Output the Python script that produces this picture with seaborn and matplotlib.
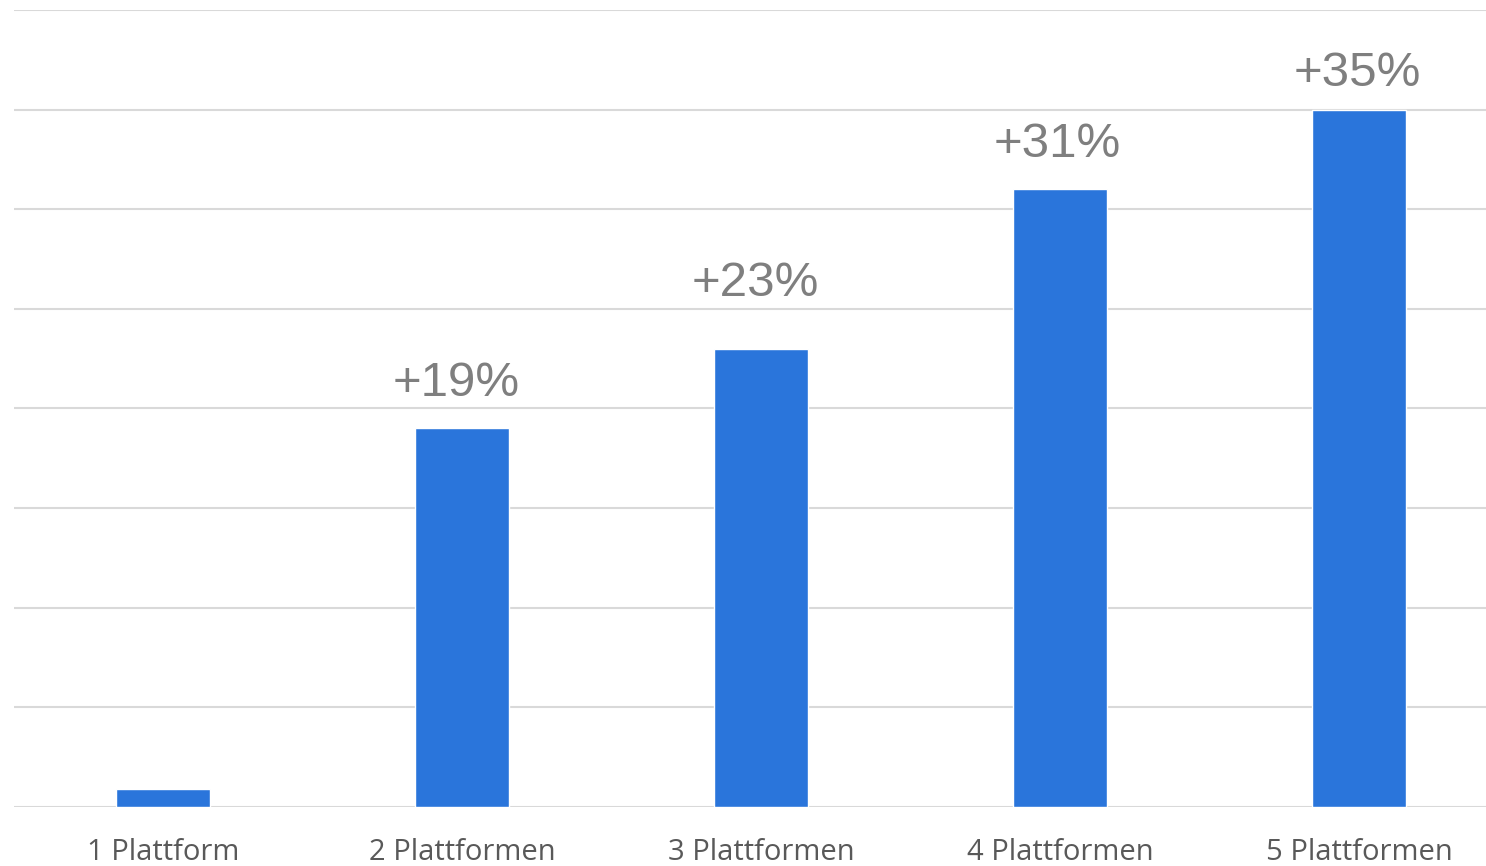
import matplotlib
matplotlib.use("Agg")
import matplotlib.pyplot as plt
import seaborn as sns
import pandas as pd

categories = ["1 Plattform", "2 Plattformen", "3 Plattformen", "4 Plattformen", "5 Plattformen"]
values = [0.18, 3.8, 4.6, 6.2, 7.0]
labels = ["", "+19%", "+23%", "+31%", "+35%"]

# label offsets (points) as styling
label_dx = [0, -4, -4, -2, -1]
label_dy = [0, 16, 31, 16, 10]

sns.set_theme(style="white")
plt.rcParams['font.family'] = ['Open Sans', 'DejaVu Sans']

df = pd.DataFrame({"cat": categories, "val": values})

fig = plt.figure(figsize=(14.86, 8.66), dpi=100)
ax = fig.add_axes([0.0094, 0.0681, 0.9906, 0.9204])
sns.barplot(data=df, x="cat", y="val", color="#2A75DB", saturation=1, width=0.315, ax=ax)

ax.set_ylim(0, 8)
ax.set_xlim(-0.498, 4.425)
ax.set_yticks(range(0, 9))
ax.yaxis.grid(True, color="#D9D9D9", linewidth=1.5)
ax.set_axisbelow(True)
for s in ax.spines.values():
    s.set_visible(False)
ax.tick_params(axis="y", left=False, labelleft=False)
ax.tick_params(axis="x", bottom=False, pad=16, labelsize=21, labelcolor="#595959")
ax.set_xlabel("")
ax.set_ylabel("")

for i, (v, lab) in enumerate(zip(values, labels)):
    if lab:
        ax.annotate(lab, (i, v), xytext=(label_dx[i], label_dy[i]), textcoords="offset points",
                    ha="center", va="bottom", fontsize=35.5, color="#7F7F7F",
                    family=["Liberation Sans", "DejaVu Sans"])

fig.savefig("out.png", dpi=100)
